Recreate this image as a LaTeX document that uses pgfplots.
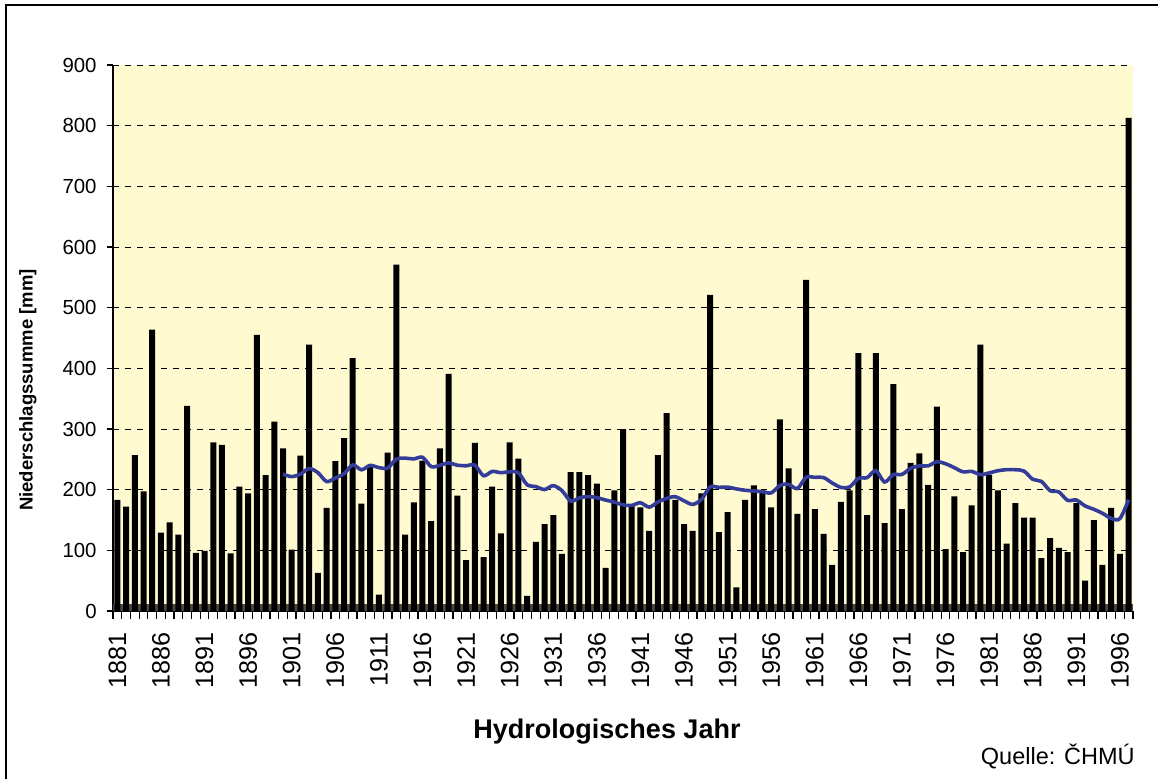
\documentclass[border=0pt]{standalone}
\usepackage{fontspec}
\setmainfont{Liberation Sans}
\usepackage{pgfplots}
\usepackage{pgfplotstable}
\pgfplotsset{compat=1.18}

\definecolor{plotbg}{RGB}{255,250,208}
\definecolor{avgblue}{RGB}{51,60,153}
\definecolor{basegray}{RGB}{75,72,60}

% annual precipitation sums [mm]
\pgfplotstableread{
year mm
1881 183
1882 172
1883 257
1884 197
1885 464
1886 129
1887 146
1888 126
1889 338
1890 96
1891 99
1892 278
1893 274
1894 95
1895 205
1896 194
1897 455
1898 224
1899 312
1900 268
1901 101
1902 256
1903 439
1904 63
1905 170
1906 247
1907 285
1908 417
1909 177
1910 241
1911 27
1912 261
1913 571
1914 126
1915 179
1916 248
1917 148
1918 268
1919 391
1920 190
1921 84
1922 277
1923 89
1924 205
1925 128
1926 278
1927 251
1928 25
1929 114
1930 143
1931 158
1932 94
1933 229
1934 229
1935 224
1936 210
1937 71
1938 199
1939 300
1940 173
1941 171
1942 132
1943 257
1944 326
1945 183
1946 143
1947 132
1948 194
1949 521
1950 130
1951 163
1952 39
1953 183
1954 207
1955 199
1956 171
1957 316
1958 235
1959 160
1960 546
1961 168
1962 127
1963 76
1964 180
1965 199
1966 425
1967 158
1968 425
1969 145
1970 374
1971 168
1972 244
1973 260
1974 208
1975 337
1976 102
1977 189
1978 97
1979 174
1980 439
1981 225
1982 199
1983 111
1984 178
1985 154
1986 154
1987 87
1988 120
1989 104
1990 97
1991 178
1992 50
1993 150
1994 76
1995 170
1996 94
1997 813
}\niederschlag

% 20-year moving average [mm]
\pgfplotstableread{
year mm
1900 225.6
1901 221.5
1902 225.7
1903 234.8
1904 228.1
1905 213.4
1906 219.3
1907 226.3
1908 240.8
1909 232.8
1910 240.0
1911 236.4
1912 235.6
1913 250.4
1914 252.0
1915 250.7
1916 253.4
1917 238.0
1918 240.2
1919 244.2
1920 240.3
1921 239.4
1922 240.5
1923 223.0
1924 230.1
1925 228.0
1926 229.5
1927 227.8
1928 208.2
1929 205.1
1930 200.2
1931 206.7
1932 198.4
1933 181.3
1934 186.4
1935 188.7
1936 186.8
1937 182.9
1938 179.5
1939 174.9
1940 174.1
1941 178.4
1942 171.2
1943 179.6
1944 185.6
1945 188.4
1946 181.6
1947 175.7
1948 184.1
1949 204.5
1950 203.8
1951 204.1
1952 201.3
1953 199.0
1954 197.9
1955 196.7
1956 194.7
1957 207.0
1958 208.8
1959 201.8
1960 220.4
1961 220.3
1962 220.0
1963 211.0
1964 203.7
1965 204.5
1966 218.6
1967 219.9
1968 231.4
1969 212.6
1970 224.8
1971 225.1
1972 235.3
1973 239.2
1974 239.2
1975 246.1
1976 242.7
1977 236.3
1978 229.4
1979 230.1
1980 224.8
1981 227.6
1982 231.2
1983 233.0
1984 232.9
1985 230.6
1986 217.1
1987 213.5
1988 198.3
1989 196.2
1990 182.4
1991 182.9
1992 173.2
1993 167.7
1994 161.1
1995 152.7
1996 152.3
1997 183.5
}\gleitend

\begin{document}
\begin{tikzpicture}
\useasboundingbox (0,0) rectangle (579pt,389pt);
% outer chart frame
\draw[line width=1pt] (3pt,-5pt) -- (3pt,386.5pt) -- (590pt,386.5pt);

\begin{axis}[
 at={(56.5pt,83.5pt)}, anchor=south west,
 scale only axis, width=510pt, height=273pt,
 xmin=1880.5, xmax=1997.5,
 ymin=0, ymax=900,
 ytick={0,100,...,900},
 xtick={1881,1886,...,1996},
 minor xtick={1880.5,1881.5,...,1997.5},
 axis x line*=bottom, axis y line*=left,
 axis line style={-, black, line width=0.8pt},
 axis background/.style={fill=plotbg},
 ymajorgrids, grid style={black, dashed, line width=0.5pt},
 tick align=outside,
 major tick length=3pt, minor tick length=4pt,
 major x tick style={draw=none},
 minor x tick style={black, line width=0.6pt},
 major y tick style={black, line width=0.6pt},
 /pgf/number format/.cd, 1000 sep={}, assume math mode=true,
 /pgfplots/.cd,
 xticklabel style={font=\fontsize{12.6}{14}\selectfont, rotate=90, anchor=east, inner ysep=0pt, inner xsep=7.5pt},
 yticklabel style={font=\fontsize{10.2}{12}\selectfont, inner sep=0pt, xshift=-5pt},
 clip=false,
]
\fill[basegray] (axis cs:1880.5,0) rectangle (axis cs:1997.5,12);
\addplot[ybar, bar width=3pt, fill=black, draw=none] table[x=year, y=mm] {\niederschlag};
\addplot[smooth, avgblue, line width=1.8pt] table[x=year, y=mm] {\gleitend};
\end{axis}

\node[rotate=90, font=\bfseries\fontsize{9.25}{11}\selectfont] at (14pt,194pt) {Niederschlagssumme [mm]};
\node[font=\bfseries\fontsize{13.5}{16}\selectfont] at (303.5pt,23pt) {Hydrologisches Jahr};
\node[anchor=east, inner sep=0pt, font=\fontsize{11.75}{14}\selectfont] at (567.5pt,11pt) {Quelle: ČHMÚ};
\end{tikzpicture}
\end{document}
